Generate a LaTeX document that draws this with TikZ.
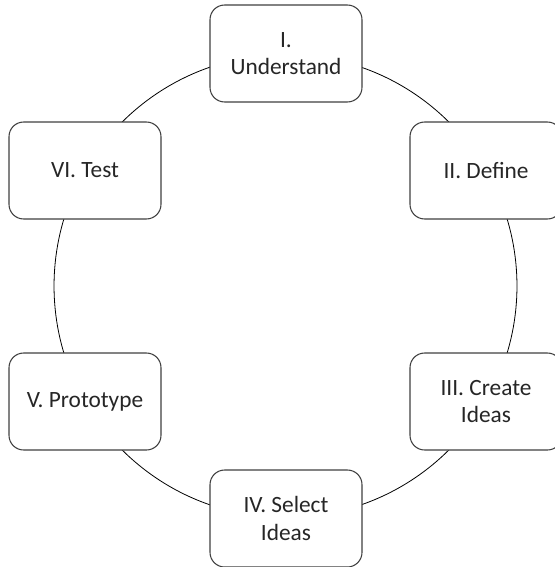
\documentclass[tikz,border=0pt]{standalone}
\usepackage{fontspec}
\setmainfont{Carlito}
\begin{document}
\begin{tikzpicture}[x=0.75pt,y=-0.75pt,
  stage/.style={draw=black!75, line width=0.8pt, fill=white, rounded corners=11pt,
    minimum width=114pt, minimum height=72.75pt, align=center, inner sep=2pt,
    font=\fontsize{17.5}{20.5}\selectfont, text=black!85},
  ring/.style={draw=black, line width=0.6pt}]
\useasboundingbox (0,0) rectangle (554,567);
\coordinate (c) at (285.5,286);
\draw[ring] (c) circle[radius=173.6pt];
\node[stage] (s1) at (286,53.5) {I.\\Understand};
\node[stage] (s2) at (486,170.5) {II. Define};
\node[stage] (s3) at (486,401.5) {III. Create\\Ideas};
\node[stage] (s4) at (286,518.5) {IV. Select\\Ideas};
\node[stage] (s5) at (85,401.5) {V. Prototype};
\node[stage] (s6) at (85,170.5) {VI. Test};
\end{tikzpicture}
\end{document}
